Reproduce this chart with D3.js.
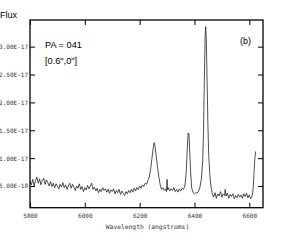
<!DOCTYPE html>
<html>
<head>
<meta charset="utf-8">
<script src="https://cdn.jsdelivr.net/npm/d3@7"></script>
<style>
html,body{margin:0;padding:0;background:#fff;}
svg{display:block;}
</style>
</head>
<body>
<svg id="chart" width="298" height="242"></svg>
<script>
// wavelength (angstroms)
const wavelength = [
5800,5805,5810,5815,5820,5825,5830,5835,5840,5845,5850,5855,5860,5865,5870,5875,5880,5885,5890,5895,
5900,5905,5910,5915,5920,5925,5930,5935,5940,5945,5950,5955,5960,5965,5970,5975,5980,5985,5990,5995,
6000,6005,6010,6015,6020,6025,6030,6035,6040,6045,6050,6055,6060,6065,6070,6075,6080,6085,6090,6095,
6100,6105,6110,6115,6120,6125,6130,6135,6140,6145,6150,6155,6160,6165,6170,6175,6180,6185,6190,6195,
6200,6205,6210,6215,6220,6225,6230,6235,6240,6245,6250,6253,6256,6260,6265,6270,6275,6280,6285,6290,
6295,6298,6300,6302,6305,6310,6315,6320,6325,6330,6335,6340,6345,6350,6355,6360,6365,6370,6374,6377,
6380,6383,6386,6390,6395,6400,6405,6410,6415,6420,6425,6430,6433,6436,6439,6441,6443,6446,6449,6452,
6456,6460,6465,6470,6475,6480,6485,6490,6495,6500,6505,6510,6512,6515,6520,6525,6530,6535,6540,6545,
6550,6555,6560,6565,6570,6575,6580,6585,6590,6595,6600,6605,6610,6614,6617,6620,6623
];
// flux (units of 1e-17)
const flux = [
0.58,0.52,0.62,0.50,0.60,0.66,0.55,0.63,0.52,0.60,0.64,0.53,0.61,0.56,0.50,0.58,0.49,0.55,0.47,0.54,
0.50,0.45,0.53,0.48,0.56,0.47,0.52,0.44,0.50,0.55,0.46,0.53,0.48,0.42,0.50,0.46,0.54,0.44,0.49,0.40,
0.47,0.43,0.51,0.45,0.50,0.55,0.44,0.48,0.41,0.46,0.38,0.44,0.40,0.47,0.42,0.45,0.39,0.44,0.37,0.43,
0.40,0.45,0.36,0.42,0.38,0.44,0.35,0.41,0.37,0.33,0.40,0.36,0.42,0.38,0.44,0.39,0.46,0.41,0.47,0.44,
0.50,0.46,0.52,0.49,0.55,0.53,0.60,0.66,0.80,1.00,1.20,1.28,1.22,1.05,0.85,0.66,0.52,0.44,0.47,0.42,
0.45,0.40,0.62,0.43,0.47,0.41,0.45,0.42,0.47,0.40,0.44,0.39,0.45,0.41,0.46,0.44,0.50,0.75,1.20,1.45,
1.42,1.10,0.75,0.46,0.38,0.36,0.38,0.37,0.41,0.48,0.62,0.95,1.50,2.40,3.20,3.36,3.15,2.40,1.60,1.05,
0.70,0.50,0.36,0.30,0.38,0.28,0.36,0.32,0.40,0.30,0.36,0.33,0.44,0.32,0.37,0.28,0.35,0.31,0.36,0.27,
0.33,0.29,0.35,0.30,0.34,0.28,0.36,0.31,0.37,0.29,0.34,0.27,0.32,0.45,0.72,0.98,1.12
];
const xTicks = [5800, 6000, 6200, 6400, 6600];
const yTicks = [0.5, 1.0, 1.5, 2.0, 2.5, 3.0];
const yTickLabels = ["5.00E-18", "1.00E-17", "1.50E-17", "2.00E-17", "2.50E-17", "3.00E-17"];

const svg = d3.select("#chart");
const L = 30, R = 263, T = 20, B = 207.7;
const x = d3.scaleLinear().domain([5800, 6650]).range([L, R]);
const y = d3.scaleLinear().domain([0.111, 3.478]).range([B, T]);

const mono = "'DejaVu Sans Mono', 'Liberation Mono', monospace";

// left axis
const gl = svg.append("g").attr("transform", `translate(${L},0)`)
  .call(d3.axisLeft(y).tickValues(yTicks)
    .tickFormat((d, i) => yTickLabels[i]).tickSizeInner(-5).tickSizeOuter(0).tickPadding(2));
// right axis
const gr = svg.append("g").attr("transform", `translate(${R},0)`)
  .call(d3.axisRight(y).tickValues(yTicks).tickFormat("").tickSizeInner(-5).tickSizeOuter(0));
// bottom axis
const gb = svg.append("g").attr("transform", `translate(0,${B})`)
  .call(d3.axisBottom(x).tickValues(xTicks).tickFormat(d3.format("d")).tickSizeInner(-5).tickSizeOuter(0).tickPadding(6));
// top axis
const gt = svg.append("g").attr("transform", `translate(0,${T})`)
  .call(d3.axisTop(x).tickValues(xTicks).tickFormat("").tickSizeInner(-5).tickSizeOuter(0));

[gl, gr, gb, gt].forEach(g => {
  g.select(".domain").remove();
  g.selectAll(".tick line").attr("stroke", "#000").attr("stroke-width", 1);
  g.selectAll(".tick text").attr("fill", "#333").attr("font-family", mono).attr("font-size", 6);
});

// spectrum
const pts = wavelength.map((w, i) => [w, flux[i]]);
svg.append("path")
  .datum(pts)
  .attr("fill", "none")
  .attr("stroke", "#222")
  .attr("stroke-width", 0.8)
  .attr("stroke-linejoin", "round")
  .attr("d", d3.line().x(d => x(d[0])).y(d => y(d[1])));

// frame
svg.append("rect").attr("x", L).attr("y", T).attr("width", R - L).attr("height", B - T)
  .attr("fill", "none").attr("stroke", "#000").attr("stroke-width", 1.3);

const sans = "'Liberation Sans', Arial, sans-serif";
svg.append("text").attr("x", 0).attr("y", 18).attr("font-family", sans).attr("font-size", 9)
  .attr("fill", "#000").text("Flux");
svg.append("text").attr("x", 45).attr("y", 47.5).attr("font-family", sans).attr("font-size", 9.2)
  .attr("fill", "#000").text("PA = 041");
svg.append("text").attr("x", 45).attr("y", 63.5).attr("font-family", sans).attr("font-size", 9.2)
  .attr("fill", "#000").text("[0.6\",0\"]");
svg.append("text").attr("x", 240).attr("y", 43.5).attr("font-family", sans).attr("font-size", 9)
  .attr("fill", "#000").text("(b)");
svg.append("text").attr("x", (L + R) / 2 + 1).attr("y", 229).attr("text-anchor", "middle")
  .attr("font-family", mono).attr("font-size", 6.3).attr("fill", "#333").text("Wavelength (angstroms)");
</script>
</body>
</html>
